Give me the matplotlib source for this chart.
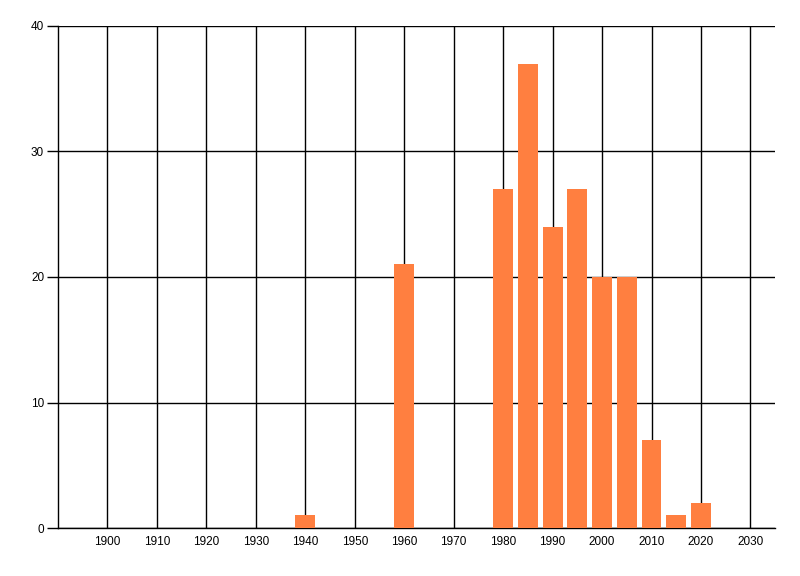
import matplotlib.pyplot as plt

# year bins and counts
years = [1940, 1960, 1980, 1985, 1990, 1995, 2000, 2005, 2010, 2015, 2020]
counts = [1, 21, 27, 37, 24, 27, 20, 20, 7, 1, 2]
x_ticks = list(range(1900, 2031, 10))
y_ticks = [0, 10, 20, 30, 40]

plt.rcParams['font.family'] = ['Liberation Sans', 'DejaVu Sans']

fig = plt.figure(figsize=(8, 5.76), dpi=100)
ax = fig.add_axes([0.0725, 0.0833, 0.8965, 0.8716])

ax.bar(years, counts, width=4, color='#FF7F40', zorder=3)

ax.set_xlim(1890, 2035)
ax.set_ylim(0, 40)
ax.set_xticks(x_ticks)
ax.set_yticks(y_ticks)
ax.grid(True, color='black', linewidth=1)
ax.set_axisbelow(True)

for side in ['top', 'right']:
    ax.spines[side].set_visible(False)
ax.spines['left'].set_linewidth(1)
ax.spines['bottom'].set_linewidth(1)

ax.tick_params(axis='x', length=0, pad=6, labelsize=8.5)
ax.tick_params(axis='y', length=8, width=1, pad=2, labelsize=8.5)

plt.savefig('out.png', dpi=100)
